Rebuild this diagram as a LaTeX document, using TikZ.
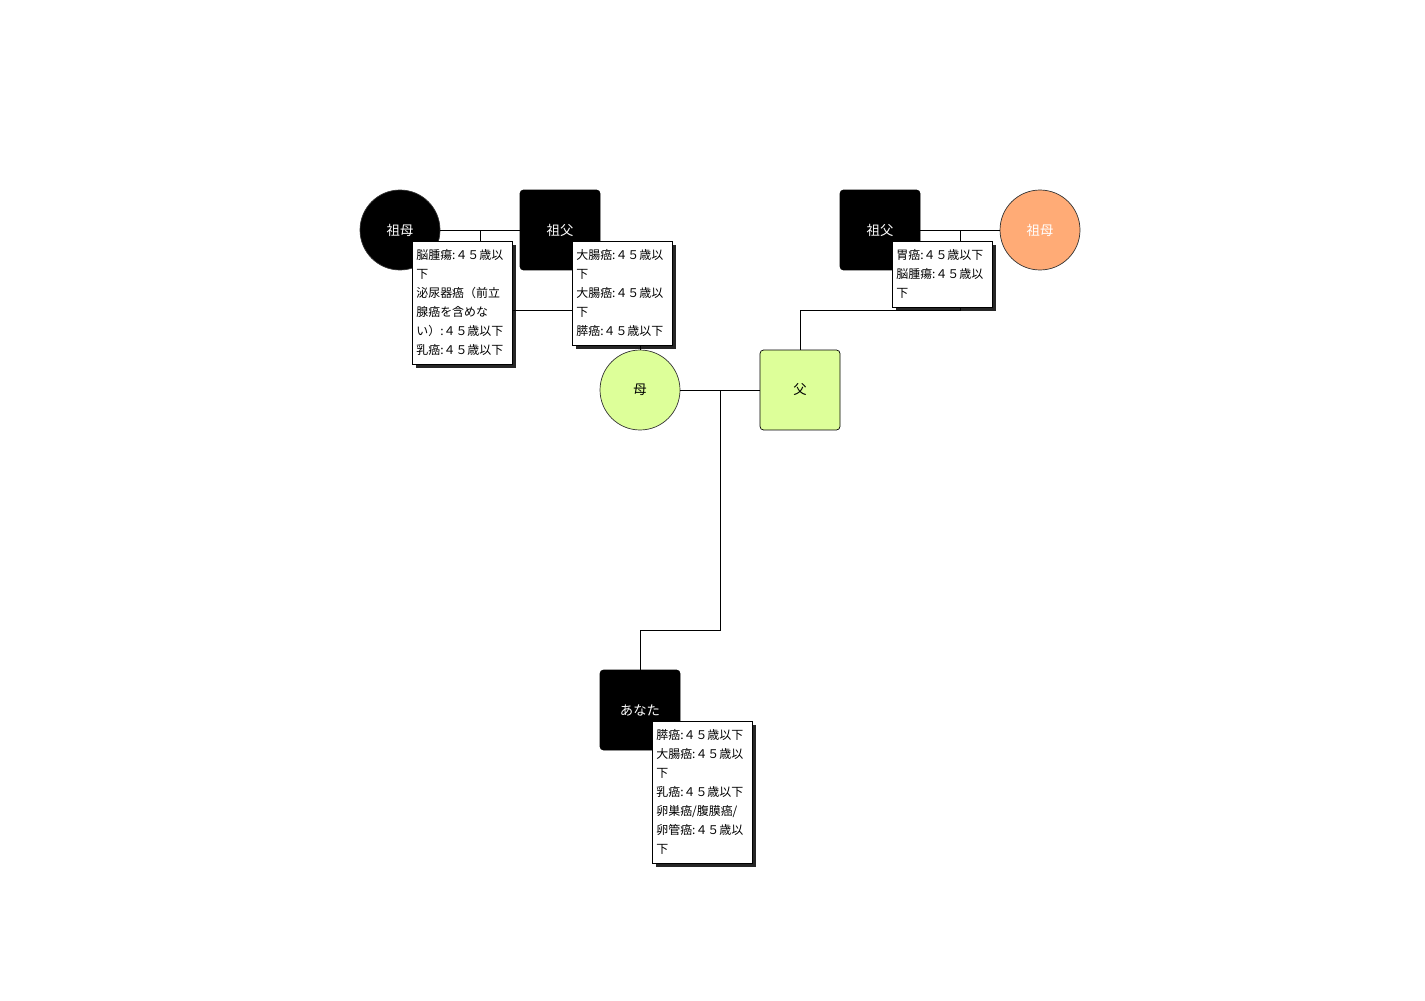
\documentclass[tikz,border=0pt]{standalone}
\usepackage{fontspec}
\setmainfont{Noto Sans CJK JP}
\usepackage{tikz}
\usetikzlibrary{shapes,shadows,calc}
\definecolor{lightgreen}{HTML}{DDFF99}
\definecolor{peach}{HTML}{FFAB76}
\tikzset{
  female/.style={circle,draw=black!80,minimum size=1.6cm,inner sep=0pt,
    font=\fontsize{7.6pt}{9pt}\selectfont},
  male/.style={rectangle,draw=black,rounded corners=2pt,minimum size=1.6cm,
    inner sep=0pt,font=\fontsize{7.6pt}{9pt}\selectfont},
  affected/.style={fill=black,text=white},
  note/.style={draw=black,fill=white,anchor=north west,align=left,
    text width=1.84cm,inner xsep=0.08cm,inner ysep=0.17cm,
    font=\fontsize{6.8pt}{10.8pt}\selectfont,
    drop shadow={shadow xshift=0.07cm,shadow yshift=-0.07cm,fill=black,opacity=0.85}},
  link/.style={draw=black,line width=0.5pt},
}

\begin{document}
\begin{tikzpicture}[x=0.02cm,y=-0.02cm]
      \useasboundingbox (0,0) rectangle (1425,1000);
      % grandparents
      \node[female,affected] (gmMother) at (400,230) {祖母};
      \node[male,affected] (gfMother) at (560,230) {祖父};
      \node[male,affected] (gfFather) at (880,230) {祖父};
      \node[female,fill=peach,text=white] (gmFather) at (1040,230) {祖母};
      % parents
      \node[female,fill=lightgreen] (mother) at (640,390) {母};
      \node[male,fill=lightgreen] (father) at (800,390) {父};
      % you
      \node[male,affected] (you) at (640,710) {あなた};

      \coordinate (mMother) at ($(gmMother)!0.5!(gfMother)$);
      \coordinate (mFather) at ($(gfFather)!0.5!(gmFather)$);
      \coordinate (mParents) at ($(mother)!0.5!(father)$);

      \path[link] (gmMother) -- (gfMother);
      \path[link] (gfFather) -- (gmFather);
      \path[link] (mother) -- (father);
      \draw[link] (mMother) -- ++(0,80) -| (mother.north);
      \draw[link] (mFather) -- ++(0,80) -| (father.north);
      \draw[link] (mParents) -- ++(0,240) -| (you.north);

      % notes
      \node[note] (gmMotherNote) at ([shift={(12,11)}]gmMother.center)
        {脳腫瘍:４５歳以\\下\\泌尿器癌（前立\\腺癌を含めな\\い）:４５歳以下\\乳癌:４５歳以下};
      \node[note] (gfMotherNote) at ([shift={(12,11)}]gfMother.center)
        {大腸癌:４５歳以\\下\\大腸癌:４５歳以\\下\\膵癌:４５歳以下};
      \node[note] (gfFatherNote) at ([shift={(12,11)}]gfFather.center)
        {胃癌:４５歳以下\\脳腫瘍:４５歳以\\下};
      \node[note] (youNote) at ([shift={(12,11)}]you.center)
        {膵癌:４５歳以下\\大腸癌:４５歳以\\下\\乳癌:４５歳以下\\卵巣癌/腹膜癌/\\卵管癌:４５歳以\\下};
\end{tikzpicture}
\end{document}
